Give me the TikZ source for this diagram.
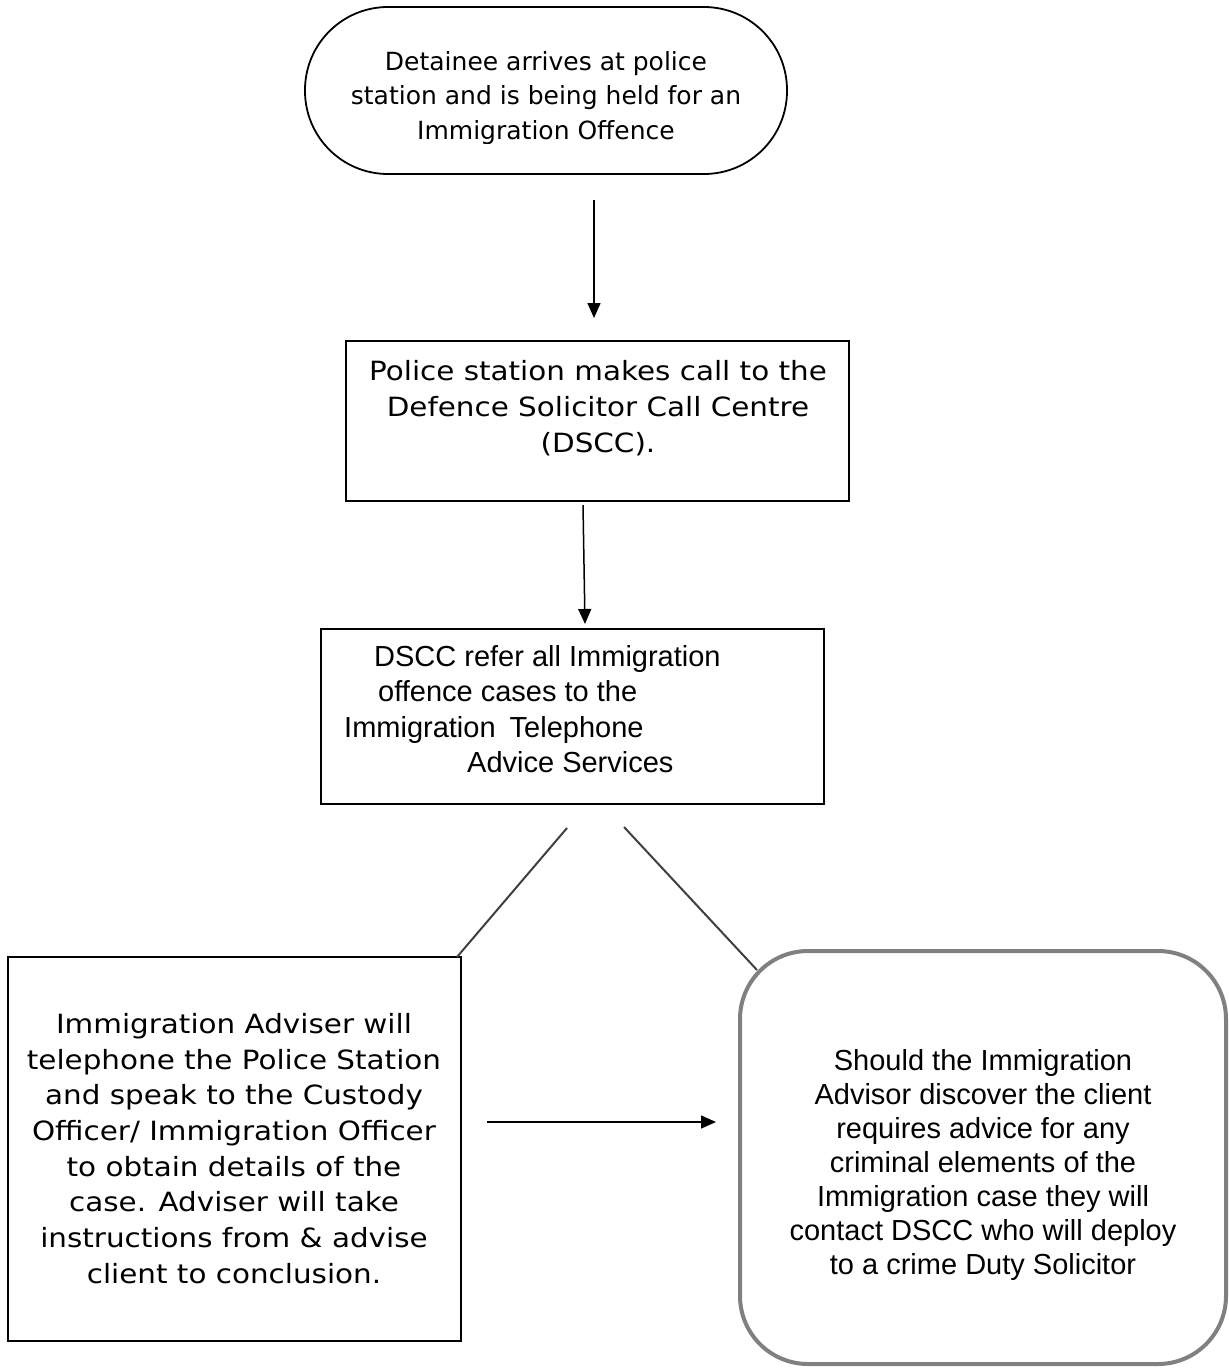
\documentclass[tikz,border=0pt]{standalone}
\usepackage{fontspec}
\setmainfont{DejaVu Sans}
\newfontfamily\verdw[FakeStretch=1.11]{DejaVu Sans}
\newfontfamily\arialf{Liberation Sans}
\usetikzlibrary{arrows.meta}
\begin{document}
\begin{tikzpicture}[x=1pt,y=-1pt,
  boxline/.style={draw=black,line width=1.8pt,inner sep=0pt},
  softbox/.style={draw=black!50,line width=4pt,rounded corners=68pt,inner sep=0pt},
  vtxt/.style={font=\fontsize{25}{34.5}\selectfont,align=center,inner sep=0pt},
  vtxtb/.style={font=\verdw\fontsize{26.5}{36}\selectfont,align=center,inner sep=0pt},
  vtxtc/.style={font=\verdw\fontsize{26.5}{35.7}\selectfont,align=center,inner sep=0pt},
  atxt/.style={font=\arialf\fontsize{29}{35.5}\selectfont,inner sep=0pt},
  atxtb/.style={font=\arialf\fontsize{29}{34}\selectfont,align=center,inner sep=0pt},
  arr/.style={draw=black,line width=1.5pt,-{Triangle[length=15pt,width=13pt]}},
  diag/.style={draw=black!75,line width=2pt}
]
\useasboundingbox[fill=white] (0,0) rectangle (1229,1369);

% top stadium
\node[boxline,rounded corners=83pt,minimum width=482pt,minimum height=167pt] (start) at (546,90.5) {};
\begin{scope}
\clip (300,0) rectangle (800,143);
\node[vtxt,anchor=north] (starttxt) at (546,51) {Detainee arrives at police\\station and is being held for an\\Immigration Offence};
\end{scope}

% box 2
\node[boxline,minimum width=503pt,minimum height=160pt] (call) at (597.5,421) {};
\node[vtxtb,anchor=north] (calltxt) at (598,360) {Police station makes call to the\\Defence Solicitor Call Centre\\(DSCC).};

% box 3
\node[boxline,minimum width=503pt,minimum height=175pt] (dscc) at (572.5,716.5) {};
\node[atxt,align=left,anchor=north west] (dscctxt) at (344,645) {\hspace*{30pt}DSCC refer all Immigration\\\hspace*{34pt}offence cases to the\\Immigration\hspace{6pt} Telephone\\\hspace*{123pt}Advice Services};

% box 4
\node[boxline,minimum width=453pt,minimum height=384pt] (adviser) at (234.5,1149) {};
\node[vtxtc,anchor=north] (advisertxt) at (234,1013) {Immigration Adviser will\\telephone the Police Station\\and speak to the Custody\\Officer/ Immigration Officer\\to obtain details of the\\case. Adviser will take\\instructions from \& advise\\client to conclusion.};

% box 5
\node[softbox,minimum width=486pt,minimum height=413pt] (crime) at (983,1157.5) {};
\node[atxtb,anchor=north] (crimetxt) at (983,1049) {Should the Immigration\\Advisor discover the client\\requires advice for any\\criminal elements of the\\Immigration case they will\\contact DSCC who will deploy\\to a crime Duty Solicitor};

% connectors
\coordinate (a1s) at (594,200);
\coordinate (a1e) at (594,318);
\coordinate (a2s) at (583,505);
\coordinate (a2e) at (585,624);
\coordinate (l1s) at (567,828);
\coordinate (l1e) at (457,957);
\coordinate (l2s) at (624,827);
\coordinate (l2e) at (757,970);
\coordinate (a3s) at (487,1122);
\coordinate (a3e) at (716,1122);

\draw[arr] (a1s) -- (a1e);
\draw[arr] (a2s) -- (a2e);
\draw[diag] (l1s) -- (l1e);
\draw[diag] (l2s) -- (l2e);
\draw[arr] (a3s) -- (a3e);
\end{tikzpicture}
\end{document}
